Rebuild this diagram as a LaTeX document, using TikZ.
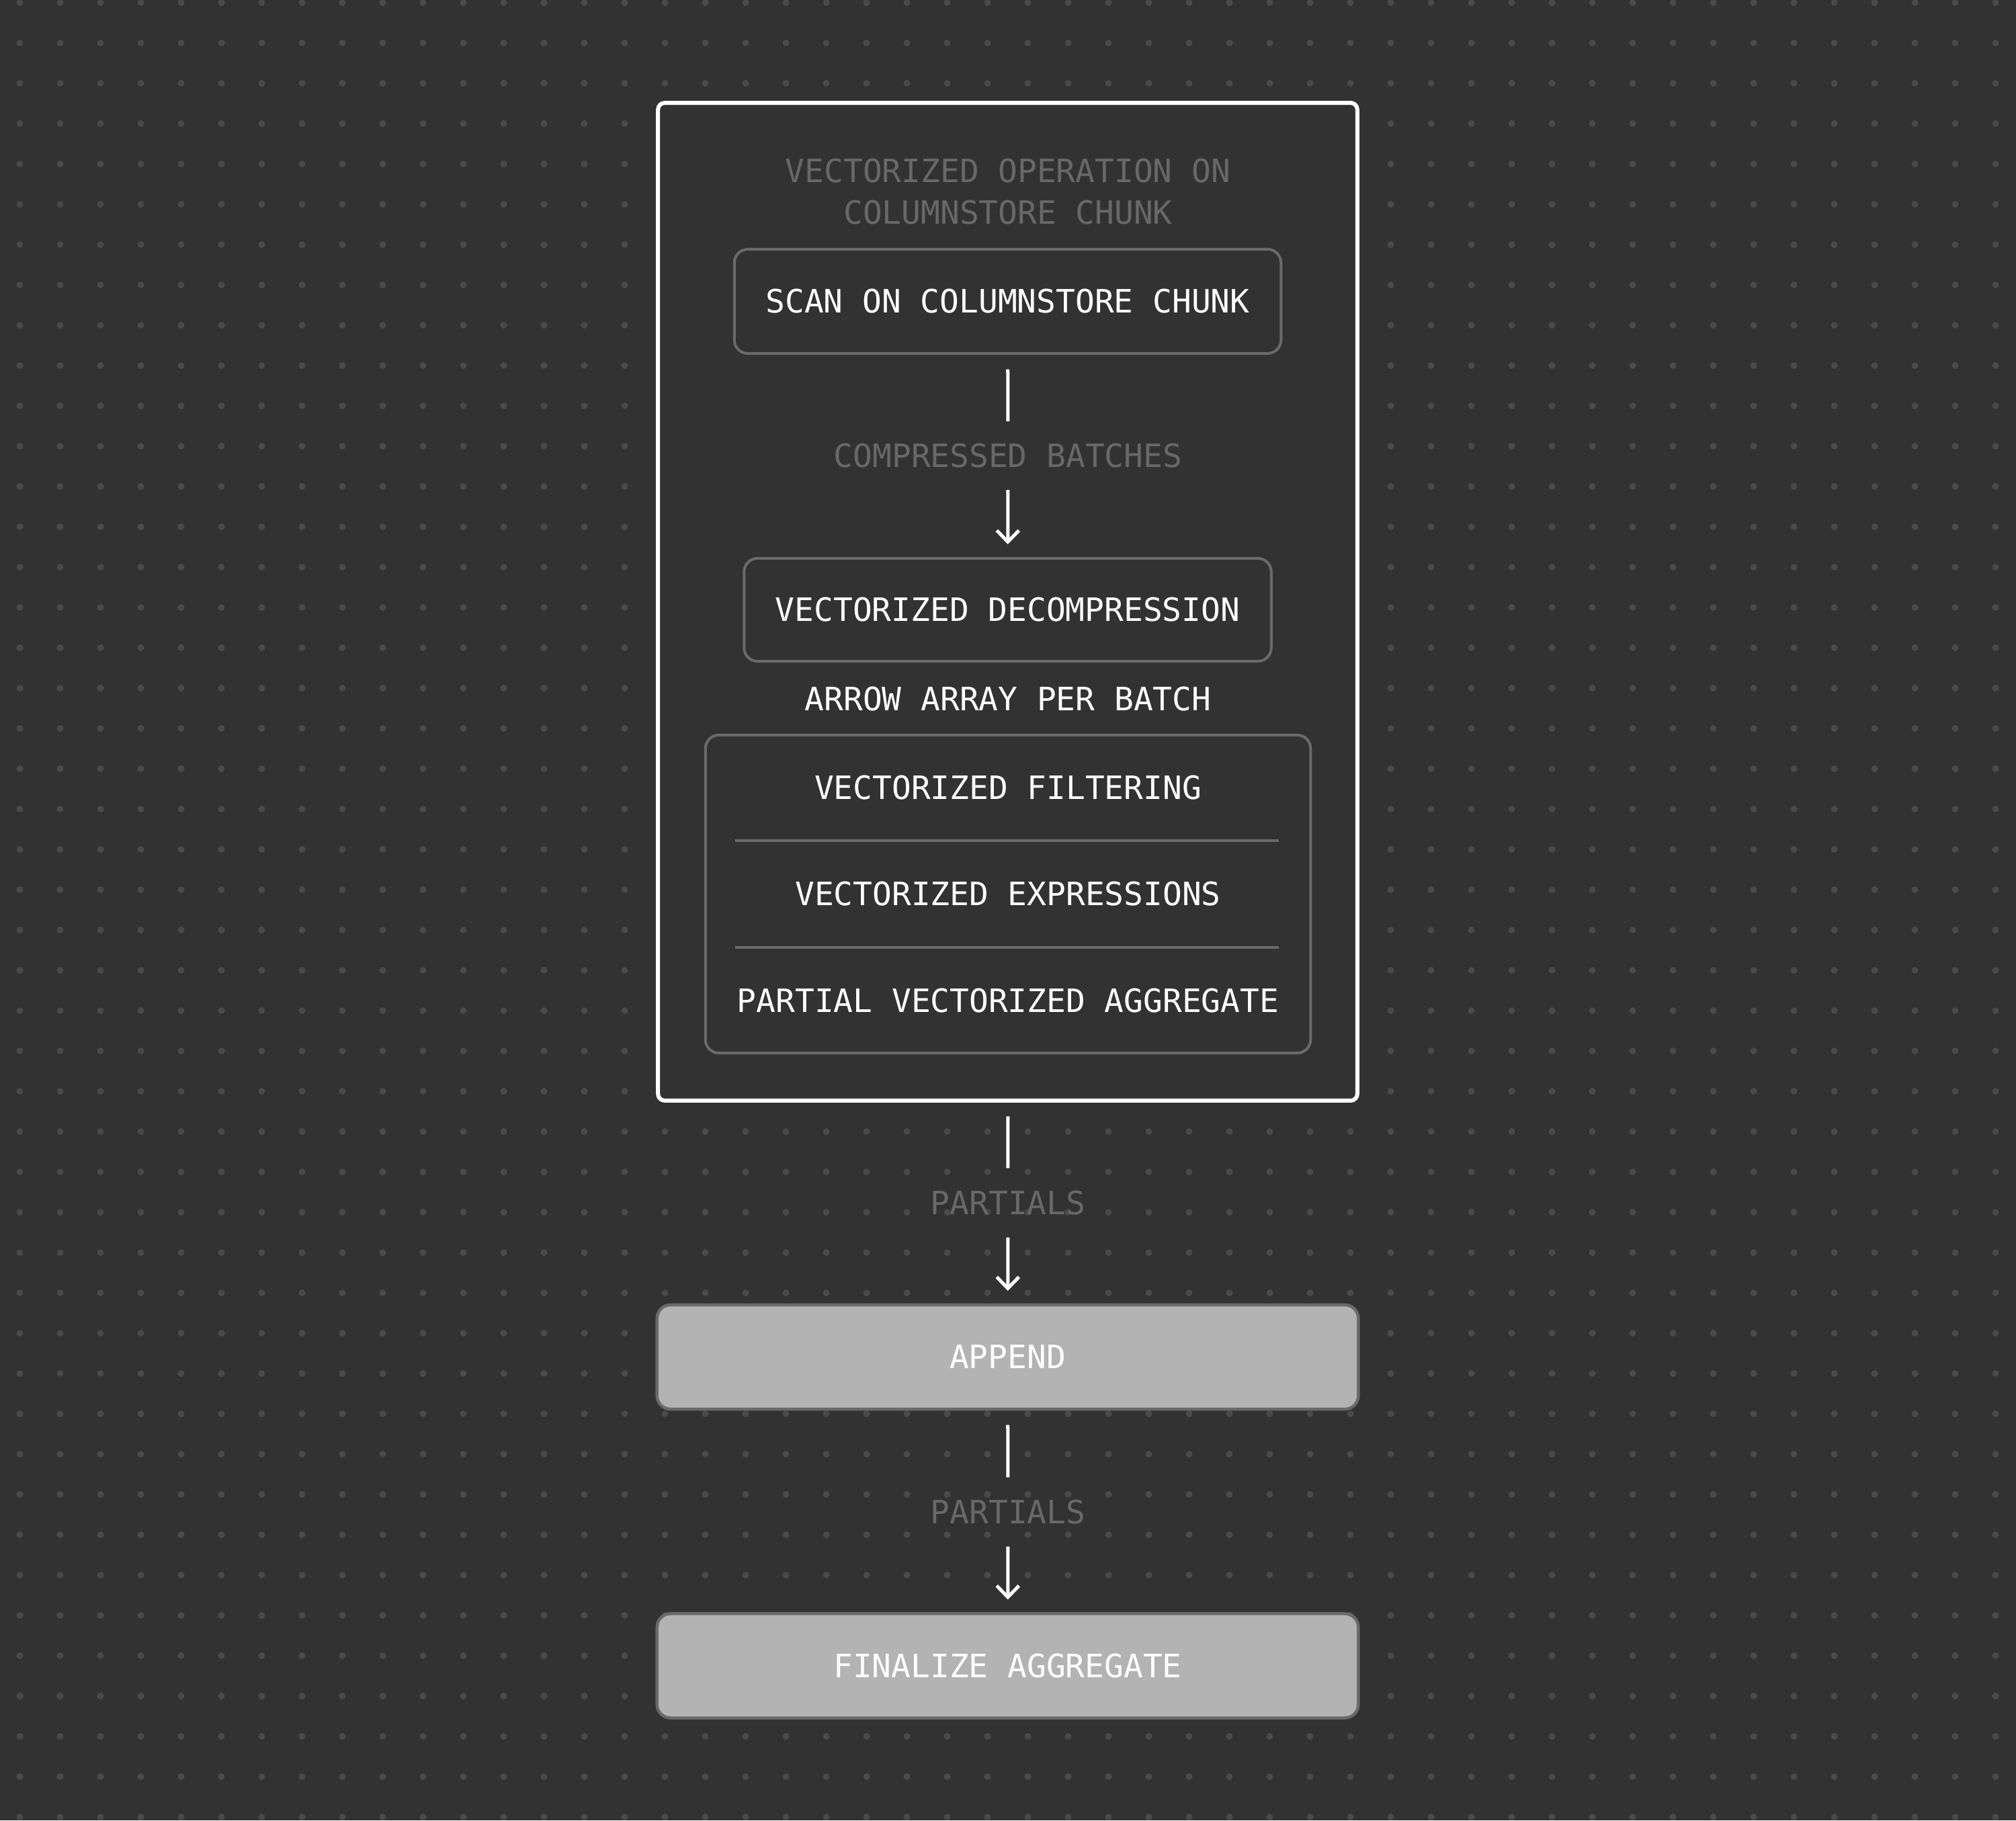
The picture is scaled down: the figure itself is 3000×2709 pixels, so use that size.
\documentclass[tikz,border=0pt]{standalone}
\usepackage{fontspec}
\usepackage{tikz}
\usetikzlibrary{arrows.meta, positioning}
\newfontfamily\diagfont{DejaVu Sans Mono}
\definecolor{boardgrey}{RGB}{50,50,50}
\definecolor{dotgrey}{RGB}{74,74,74}
\definecolor{mutedgrey}{RGB}{104,104,104}
\definecolor{rimgrey}{RGB}{106,106,106}
\definecolor{solidgrey}{RGB}{179,179,179}
\tikzset{
x=0.01cm, y=-0.01cm, % one unit is one pixel of the reference
>={Straight Barb[length=0.17cm, width=0.33cm]}, % open arrow heads
every node/.style={font=\diagfont\fontsize{13.6}{17.6}\selectfont, inner sep=0pt, outer sep=0pt},
frame/.style={draw=white, line width=0.06cm, fill=boardgrey, rounded corners=0.1cm},
stage/.style={draw=rimgrey, line width=0.04cm, fill=boardgrey, rounded corners=0.2cm, text=white},
final/.style={draw=rimgrey, line width=0.045cm, fill=solidgrey, rounded corners=0.2cm, text=white, minimum width=10.43cm, minimum height=1.55cm},
tag/.style={text=mutedgrey, minimum height=1.03cm}, % labels sitting on the connectors
wire/.style={white, line width=0.05cm, shorten <=0.235cm},
feed/.style={white, line width=0.05cm, ->, shorten >=0.21cm},
sepline/.style={rimgrey, line width=0.04cm}
}

\begin{document}
\begin{tikzpicture}
  \fill[boardgrey] (0,0) rectangle (3000,2709);
  \useasboundingbox (0,0) rectangle (3000,2709);
  \foreach \i in {0,...,49}
    \foreach \j in {0,...,45}
      \fill[dotgrey] ({29.5+60*\i},{4+60*\j}) circle (0.05cm);

  % vectorized part
  \node[frame, minimum width=10.4cm, minimum height=14.84cm] (chunk) at (1499.5,895.5) {};
  \node[text=mutedgrey, align=center] (title) at (1500,285) {VECTORIZED OPERATION ON\\COLUMNSTORE CHUNK};
  \node[stage, minimum width=8.13cm, minimum height=1.55cm] (scan) at (1499.5,448.5) {SCAN ON COLUMNSTORE CHUNK};
  \node[tag, minimum height=1.02cm] (batches) at (1500,678) {COMPRESSED BATCHES};
  \node[stage, minimum width=7.84cm, minimum height=1.53cm] (decomp) at (1499.5,907.5) {VECTORIZED DECOMPRESSION};
  \node[text=white] (arrowarr) at (1500,1040) {ARROW ARRAY PER BATCH};
  \node[stage, minimum width=9cm, minimum height=4.73cm] (pipe) at (1500,1330.5) {};
  \node[text=white] (filter) at (1500,1172) {VECTORIZED FILTERING};
  \node[text=white] (expr) at (1500,1330) {VECTORIZED EXPRESSIONS};
  \node[text=white] (partial) at (1500,1489) {PARTIAL VECTORIZED AGGREGATE};
  \coordinate (sepAl) at (1094,1251);
  \coordinate (sepAr) at (1903,1251);
  \coordinate (sepBl) at (1094,1410);
  \coordinate (sepBr) at (1903,1410);
  \draw[sepline] (sepAl) -- (sepAr);
  \draw[sepline] (sepBl) -- (sepBr);

  % aggregation
  \node[tag] (partsA) at (1500,1790) {PARTIALS};
  \node[final] (append) at (1499.5,2019.5) {APPEND};
  \node[tag] (partsB) at (1500,2250) {PARTIALS};
  \node[final] (finalize) at (1499.5,2479) {FINALIZE AGGREGATE};

  \draw[wire] (scan) -- (batches);
  \draw[feed] (batches) -- (decomp);
  \draw[wire] (chunk) -- (partsA);
  \draw[feed] (partsA) -- (append);
  \draw[wire] (append) -- (partsB);
  \draw[feed] (partsB) -- (finalize);
\end{tikzpicture}
\end{document}
